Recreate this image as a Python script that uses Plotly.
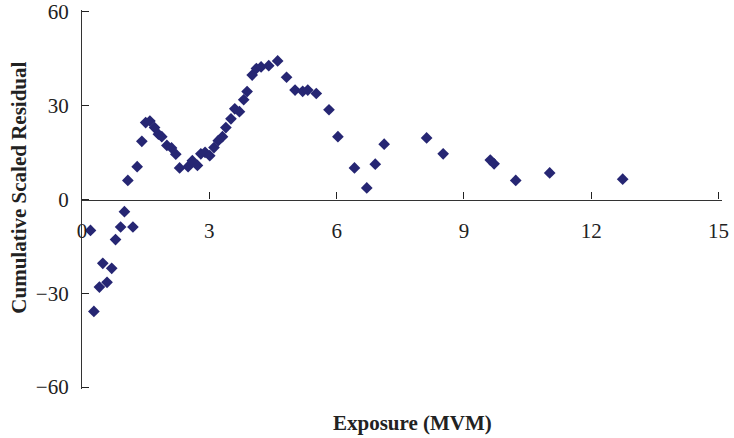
import plotly.graph_objects as go

exposure = [0.20, 0.28, 0.41, 0.49, 0.59, 0.70, 0.79, 0.91, 1.00, 1.08, 1.20, 1.30,
            1.41, 1.50, 1.60, 1.71, 1.80, 1.88, 2.00, 2.11, 2.21, 2.30, 2.50, 2.60,
            2.72, 2.80, 2.90, 3.01, 3.11, 3.21, 3.31, 3.39, 3.51, 3.60, 3.71, 3.81,
            3.89, 4.01, 4.11, 4.22, 4.40, 4.61, 4.82, 5.02, 5.20, 5.32, 5.52, 5.82,
            6.03, 6.42, 6.71, 6.91, 7.12, 8.12, 8.51, 9.62, 9.71, 10.22, 11.02, 12.74]
residual = [-9.9, -35.8, -28.0, -20.4, -26.5, -22.0, -12.8, -8.8, -3.9, 6.1, -8.8, 10.5,
            18.6, 24.6, 25.1, 23.0, 20.9, 20.1, 17.3, 16.5, 14.5, 10.1, 10.5, 12.4,
            10.9, 14.6, 15.1, 14.0, 16.6, 18.8, 20.1, 23.0, 25.8, 29.0, 28.1, 31.9,
            34.5, 39.8, 41.9, 42.4, 42.8, 44.3, 39.1, 35.0, 34.6, 35.0, 33.9, 28.7,
            20.1, 10.1, 3.7, 11.3, 17.7, 19.7, 14.6, 12.6, 11.4, 6.1, 8.5, 6.5]

x_ticks = [0, 3, 6, 9, 12, 15]
y_ticks = [-60, -30, 0, 30, 60]

font_family = "Liberation Serif, Times New Roman, serif"

fig = go.Figure()
fig.add_trace(go.Scatter(
    x=exposure, y=residual, mode="markers",
    marker=dict(symbol="diamond", size=9, color="#262673"),
    showlegend=False, cliponaxis=False,
))

fig.update_layout(
    width=734, height=438,
    margin=dict(l=82, r=12, t=10, b=49, autoexpand=False),
    paper_bgcolor="white", plot_bgcolor="white",
    font=dict(family=font_family, size=21, color="#222222"),
    xaxis=dict(
        range=[0, 15.08], tickvals=x_ticks, ticks="inside", ticklen=7,
        tickcolor="#222222", showline=True, linecolor="#333333", linewidth=1.2,
        showgrid=False, zeroline=False, anchor="free", position=0.5,
        ticklabelstandoff=12, automargin=False, ticklabeloverflow="allow",
        tickfont=dict(family=font_family, size=21, color="#222222"),
    ),
    yaxis=dict(
        range=[-60.6, 60.6], tickvals=y_ticks, ticks="inside", ticklen=7,
        tickcolor="#222222", showline=True, linecolor="#333333", linewidth=1.2,
        showgrid=False, zeroline=False, ticklabelstandoff=8, automargin=False,
        ticklabeloverflow="allow",
        tickfont=dict(family=font_family, size=21, color="#222222"),
    ),
    annotations=[
        dict(text="<b>Exposure (MVM)</b>", xref="paper", yref="paper",
             x=0.516, y=-0.09, xanchor="center", yanchor="middle",
             showarrow=False, font=dict(family=font_family, size=21, color="#222222")),
        dict(text="<b>Cumulative Scaled Residual</b>", xref="paper", yref="paper",
             x=-0.098, y=0.532, xanchor="center", yanchor="middle", textangle=-90,
             showarrow=False, font=dict(family=font_family, size=21, color="#222222")),
    ],
)

fig.write_html("out.html", config={"displayModeBar": False},
               post_script="document.body.style.margin='0px';document.body.style.overflow='hidden';")
